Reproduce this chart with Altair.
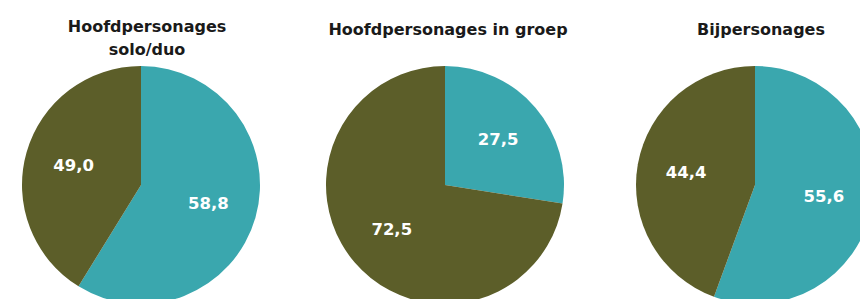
import altair as alt
import pandas as pd

titles = ["Hoofdpersonages\nsolo/duo", "Hoofdpersonages in groep", "Bijpersonages"]
categories = ["teal", "olive"]
teal_shares = [58.8, 27.5, 55.6]
olive_shares = [41.2, 72.5, 44.4]
teal_labels = ["58,8", "27,5", "55,6"]
olive_labels = ["49,0", "72,5", "44,4"]

colors = ["#3aa7ae", "#5c5e29"]

# layout (pixel positions inside the chart)
centers_x = [133, 437, 747]
center_y = 177
title_x = [139, 440, 753]
title_y = [24, 27, 27]
R = 119
label_r = 70

layers = []
for i in range(3):
    df = pd.DataFrame({
        "cat": categories,
        "value": [teal_shares[i], olive_shares[i]],
        "label": [teal_labels[i], olive_labels[i]],
        "order": [0, 1],
    })
    base = alt.Chart(df).encode(
        theta=alt.Theta("value:Q", stack=True),
        order=alt.Order("order:Q"),
        x=alt.value(centers_x[i]),
        y=alt.value(center_y),
    )
    arc = base.mark_arc(outerRadius=R).encode(
        color=alt.Color("cat:N", scale=alt.Scale(domain=categories, range=colors), legend=None)
    )
    txt = base.mark_text(radius=label_r, font="DejaVu Sans", fontWeight="bold", fontSize=16.5,
                         color="white").encode(text="label:N")
    tdf = pd.DataFrame({"t": [titles[i]]})
    ttl = alt.Chart(tdf).mark_text(font="DejaVu Sans", fontWeight="bold", fontSize=16, color="#1a1a1a",
                                   baseline="alphabetic", lineBreak="\n", lineHeight=23).encode(
        text="t:N", x=alt.value(title_x[i]), y=alt.value(title_y[i])
    )
    layers += [arc, txt, ttl]

chart = alt.layer(*layers).properties(
    width=852, height=291, autosize=alt.AutoSizeParams(type="none"), padding=0
).configure_view(stroke=None)

chart.save("out.html", embed_options={"renderer": "svg", "actions": False})
